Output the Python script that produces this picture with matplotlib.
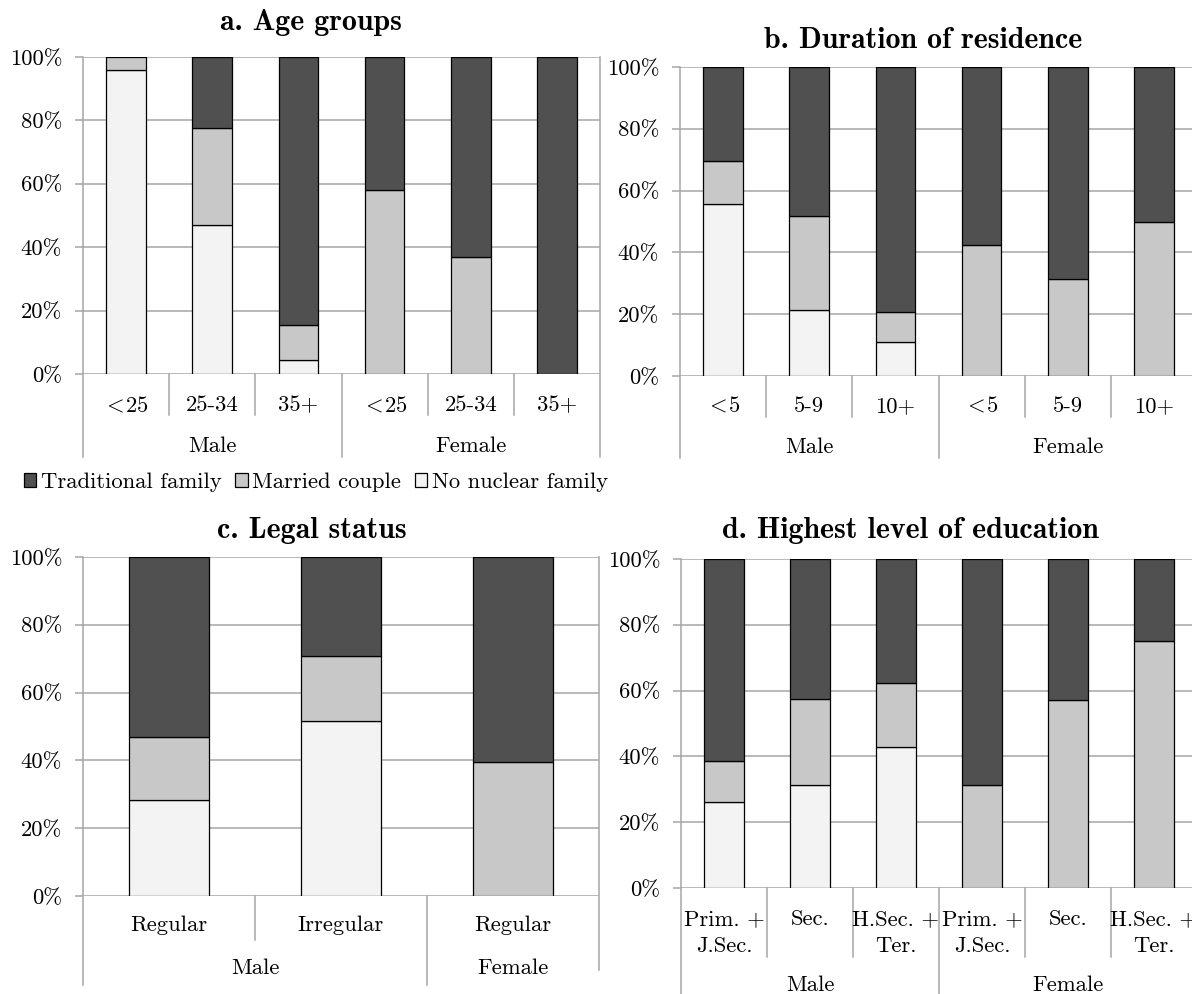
import matplotlib
matplotlib.use("Agg")
import matplotlib.pyplot as plt
from matplotlib.patches import Patch
import matplotlib.transforms as mtransforms

plt.rcParams['font.family'] = ['cmr10', 'DejaVu Serif']
plt.rcParams['mathtext.fontset'] = 'cm'
plt.rcParams['axes.unicode_minus'] = False

W, H = 1192, 994

# data (percent)
groups_2 = ['Male', 'Female']

age_labels = [r'$<\!$25', '25-34', '35+', r'$<\!$25', '25-34', '35+']
age_sizes = [3, 3]
age_nonuc = [96.0, 47.0, 4.4, 0, 0, 0]
age_married = [4.0, 30.6, 11.1, 58.0, 37.0, 0]
age_trad = [0, 22.4, 84.5, 42.0, 63.0, 100.0]

res_labels = [r'$<\!$5', '5-9', '10+', r'$<\!$5', '5-9', '10+']
res_sizes = [3, 3]
res_nonuc = [55.6, 21.2, 11.1, 0, 0, 0]
res_married = [13.9, 30.6, 9.5, 42.3, 31.5, 50.0]
res_trad = [30.5, 48.2, 79.4, 57.7, 68.5, 50.0]

legal_labels = ['Regular', 'Irregular', 'Regular']
legal_sizes = [2, 1]
legal_nonuc = [28.2, 51.5, 0]
legal_married = [18.8, 19.4, 39.5]
legal_trad = [53.0, 29.1, 60.5]

edu_labels = ['Prim. +\nJ.Sec.', 'Sec.', 'H.Sec. +\nTer.', 'Prim. +\nJ.Sec.', 'Sec.', 'H.Sec. +\nTer.']
edu_sizes = [3, 3]
edu_nonuc = [26.1, 31.4, 42.8, 0, 0, 0]
edu_married = [12.4, 25.9, 19.5, 31.4, 57.0, 75.1]
edu_trad = [61.5, 42.7, 37.7, 68.6, 43.0, 24.9]

series_names = ['Traditional family', 'Married couple', 'No nuclear family']
c_trad, c_married, c_nonuc = '#505050', '#c8c8c8', '#f3f3f3'
grid_c = '#a6a6a6'
FS = 16.3

fig = plt.figure(figsize=(W / 100, H / 100), dpi=100)


def panel(x0, x1, ytop, ybot, labels, sizes, nonuc, married, trad,
          lvl1_end, lvl1_text, grp_text, grp_end, right_end, right_line=True):
    ax = fig.add_axes([x0 / W, 1 - ybot / H, (x1 - x0) / W, (ybot - ytop) / H])
    hpx = ybot - ytop
    n = len(labels)
    xs = [i + 0.5 for i in range(n)]
    bottom = [0] * n
    for vals, col in [(nonuc, c_nonuc), (married, c_married), (trad, c_trad)]:
        for i in range(n):
            if vals[i] > 0:
                ax.bar(xs[i], vals[i], 0.46, bottom=bottom[i], color=col,
                       edgecolor='black', linewidth=0.9, zorder=3)
        bottom = [b + v for b, v in zip(bottom, vals)]
    ax.set_xlim(0, n)
    ax.set_ylim(0, 100)
    ax.set_yticks([0, 20, 40, 60, 80, 100])
    ax.set_yticklabels(['0%', '20%', '40%', '60%', '80%', '100%'], fontsize=FS)
    ax.yaxis.grid(True, color=grid_c, linewidth=1.1, zorder=0)
    ax.tick_params(axis='y', length=6, color=grid_c, width=1.1, pad=9)
    ax.set_xticks([])
    for s in ['top', 'bottom', 'right', 'left']:
        ax.spines[s].set_visible(False)

    tr = mtransforms.blended_transform_factory(ax.transData, ax.transAxes)
    f = lambda px: -px / hpx
    # outer vertical lines
    ax.plot([0, 0], [1, f(grp_end)], color=grid_c, lw=1.1, transform=tr, clip_on=False)
    if right_line:
        ax.plot([n, n], [1, f(right_end)], color=grid_c, lw=1.1, transform=tr, clip_on=False)
    # category labels (one text per line, first lines aligned) and separators
    for i in range(n):
        for k, line in enumerate(labels[i].split('\n')):
            ax.text(xs[i], f(lvl1_text + 27 * k), line, transform=tr, ha='center', va='center',
                    fontsize=FS)
    start = 0
    bounds = set()
    for g, sz in zip(groups_2, sizes):
        ax.text(start + sz / 2, f(grp_text), g, transform=tr, ha='center', va='center', fontsize=FS)
        if start > 0:
            bounds.add(start)
        start += sz
    for b in range(1, n):
        end = grp_end if b in bounds else lvl1_end
        ax.plot([b, b], [0, f(end)], color=grid_c, lw=1.1, transform=tr, clip_on=False)
    return ax


panel(83, 600, 57, 374, age_labels, age_sizes, age_nonuc, age_married, age_trad,
      41, 31, 72, 83, 83)
panel(680, 1197, 67, 376, res_labels, res_sizes, res_nonuc, res_married, res_trad,
      41, 30, 71, 82, 82)
panel(83, 599, 557, 896, legal_labels, legal_sizes, legal_nonuc, legal_married, legal_trad,
      44, 29, 72, 89, 74)
panel(681, 1197, 559, 888, edu_labels, edu_sizes, edu_nonuc, edu_married, edu_trad,
      69, 31, 97, 120, 120)

title_kw = dict(fontsize=21.5, family='cmb10', ha='center', va='center')
fig.text(311 / W, 1 - 22 / H, 'a. Age groups', **title_kw)
fig.text(923 / W, 1 - 40 / H, 'b. Duration of residence', **title_kw)
fig.text(312 / W, 1 - 530 / H, 'c. Legal status', **title_kw)
fig.text(910 / W, 1 - 531 / H, 'd. Highest level of education', **title_kw)

handles = [Patch(facecolor=c, edgecolor='black', linewidth=0.9) for c in (c_trad, c_married, c_nonuc)]
fig.legend(handles, series_names, loc='center left', bbox_to_anchor=(24 / W, 1 - 482 / H),
           ncol=3, frameon=False, fontsize=FS, handlelength=0.55, handleheight=0.55,
           handletextpad=0.2, columnspacing=0.6, borderpad=0, borderaxespad=0)

fig.savefig('out.png', dpi=100)
